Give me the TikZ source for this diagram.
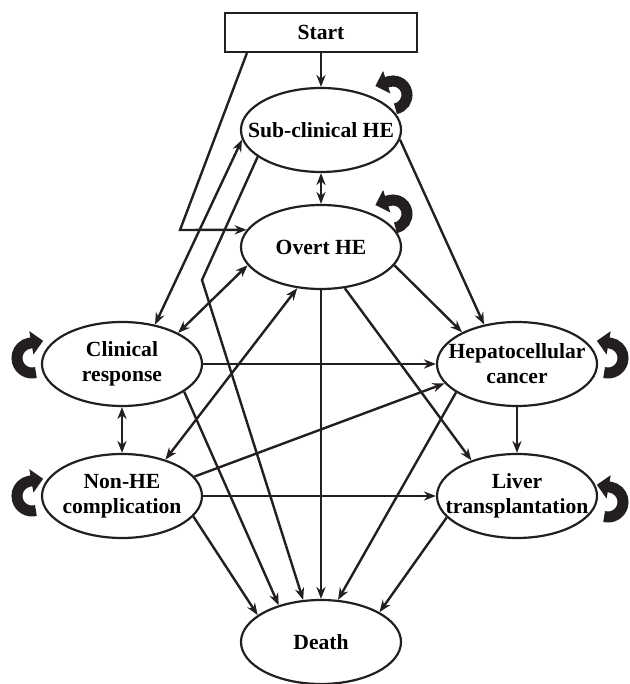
\documentclass[tikz,border=0pt]{standalone}
\usepackage{fontspec}
\setmainfont{Liberation Serif}
\usepackage{tikz}
\usetikzlibrary {arrows.meta,
                 calc,
                 shapes.geometric}
\definecolor{ink}{RGB}{35,31,32}
\tikzset{
        base/.style={draw=ink, line width=1.1pt, align=center, inner sep=0pt,
                     font=\bfseries\fontsize{10.8pt}{12.6pt}\selectfont},
        state/.style={base, ellipse, inner xsep=-10pt,
                      minimum width=80pt, minimum height=42pt},
        term/.style={base, rectangle, minimum width=96pt, minimum height=19.5pt},
        myarrow/.style={ink, line width=1.2pt, -{Stealth[length=6pt, width=4.6pt]}},
        twoway/.style={ink, line width=1.2pt,
                       {Stealth[length=6pt, width=4.6pt]}-{Stealth[length=6pt, width=4.6pt]}},
        selfloop/.style={ink, line width=5.5pt, -{Triangle[length=6pt, width=11.5pt]}},
 }

\begin{document}
\begin{tikzpicture}[x=0.5pt, y=0.5pt]
    \useasboundingbox (0,0) rectangle (629,684);

    \node[term]  (start) at (321,651.5) {Start};
    \node[state] (sub)   at (321,554) {Sub-clinical HE};
    \node[state] (overt) at (321,437) {Overt HE};
    \node[state] (clin)  at (122,320) {Clinical\\response};
    \node[state] (hcc)   at (517,320) {Hepatocellular\\cancer};
    \node[state] (nonhe) at (122,188) {Non-HE\\complication};
    \node[state] (liver) at (517,188) {Liver\\transplantation};
    \node[state] (death) at (321,42)  {Death};

    \coordinate (kinkA) at (180,454);
    \coordinate (kinkB) at (202,404);

    \draw[myarrow] (start) -- (sub);
    \draw[myarrow] ($(start.south west)+(23,0)$) -- (kinkA) -- (overt.167);
    \draw[twoway]  (sub) -- (overt);
    \draw[myarrow] (sub.-7) -- (hcc.130);
    \draw[twoway]  (sub.187) -- (clin.50);
    \draw[myarrow] (sub.203) -- (kinkB) -- (death.113);

    \draw[myarrow] (overt.-14) -- (hcc.150);
    \draw[myarrow] (overt.-60) -- (liver.142);
    \draw[myarrow] (overt) -- (death);
    \draw[twoway]  (overt.194) -- (clin.29);
    \draw[twoway]  (overt.240) -- (nonhe.40);

    \draw[myarrow] (clin) -- (hcc);
    \draw[twoway]  (clin) -- (nonhe);
    \draw[myarrow] (clin.-24) -- (death.139);

    \draw[myarrow] (nonhe) -- (liver);
    \draw[myarrow] (nonhe.15) -- (hcc.195);
    \draw[myarrow] (nonhe.-16) -- (death.157);

    \draw[myarrow] (hcc) -- (liver);
    \draw[myarrow] (hcc.205) -- (death.68);
    \draw[myarrow] (liver.197) -- (death.27);

    % staying in the same state
    \draw[selfloop] (393,589) ++(-80:14) arc[start angle=-80, end angle=108, radius=14] -- ++(198:14);
    \draw[selfloop] (393,470) ++(-80:14) arc[start angle=-80, end angle=108, radius=14] -- ++(198:14);
    \draw[selfloop] (32,326) ++(-75:15) arc[start angle=-75, end angle=-260, radius=15] -- ++(10:14);
    \draw[selfloop] (32,188) ++(-75:15) arc[start angle=-75, end angle=-260, radius=15] -- ++(10:14);
    \draw[selfloop] (608,326) ++(-105:15) arc[start angle=-105, end angle=80, radius=15] -- ++(170:14);
    \draw[selfloop] (608,182) ++(-105:15) arc[start angle=-105, end angle=80, radius=15] -- ++(170:14);
\end{tikzpicture}
\end{document}
